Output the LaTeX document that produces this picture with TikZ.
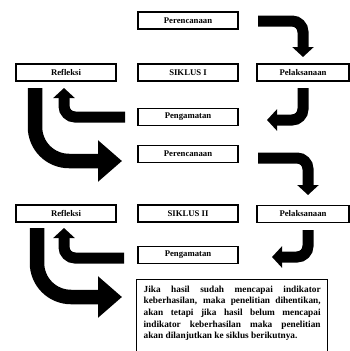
\documentclass[tikz,border=0pt]{standalone}
\usepackage{fontspec}
\setmainfont{Liberation Serif}
\usetikzlibrary{arrows.meta}
\begin{document}
\begin{tikzpicture}[x=1pt,y=-1pt,
  stage/.style={draw, line width=1.3pt, minimum height=17pt, inner sep=0pt,
    font=\bfseries\fontsize{8.7}{10}\selectfont},
  wide/.style={stage, minimum width=100pt},
  narrow/.style={stage, minimum width=92pt},
  smallarrow/.style={line width=11pt, rounded corners=11pt,
    -{Triangle[length=10pt,width=21pt]}},
  bigarrow/.style={line width=14.5pt, rounded corners=34pt,
    -{Triangle[length=24pt,width=40pt]}},
  notebox/.style={draw, line width=1.3pt, anchor=north west, inner xsep=7pt,
    inner ysep=6pt, text width=177pt, align=justify, text depth=75pt,
    font=\bfseries\fontsize{9.3}{11.7}\selectfont}
]
\useasboundingbox (0,0) rectangle (350,351);

% cycle I
\node[wide]   (per1) at (188,20.5)  {Perencanaan};
\node[wide]   (ref1) at (66,72.5)   {Refleksi};
\node[wide]   (sik1) at (188,72.5)  {SIKLUS I};
\node[narrow] (pel1) at (303,72.5)  {Pelaksanaan};
\node[wide]   (pen1) at (188,117)   {Pengamatan};

% cycle II
\node[wide]   (per2) at (188,154)   {Perencanaan};
\node[wide]   (ref2) at (66,213.5)  {Refleksi};
\node[wide]   (sik2) at (188,213.5) {SIKLUS II};
\node[narrow] (pel2) at (303,214)   {Pelaksanaan};
\node[wide]   (pen2) at (188,255)   {Pengamatan};

\node[notebox] (note) at (136,279) {Jika hasil sudah mencapai indikator\linebreak
keberhasilan, maka penelitian dihentikan,\linebreak
akan tetapi jika hasil belum mencapai\linebreak
indikator keberhasilan maka penelitian\linebreak
akan dilanjutkan ke siklus berikutnya.};

% arrow end points
\coordinate (a1s) at (258,21);  \coordinate (a1e) at (303,57);
\coordinate (a2s) at (303,88);  \coordinate (a2e) at (267,120);
\coordinate (a3s) at (125,117); \coordinate (a3e) at (64,88);
\coordinate (a4s) at (35,88);   \coordinate (a4e) at (122,161);
\coordinate (b1s) at (258,158); \coordinate (b1e) at (308,195);
\coordinate (b2s) at (308,230); \coordinate (b2e) at (272,257);
\coordinate (b3s) at (124,258); \coordinate (b3e) at (64,228);
\coordinate (b4s) at (37,228);  \coordinate (b4e) at (122,297);

\draw[smallarrow] (a1s) -| (a1e);
\draw[smallarrow] (a2s) |- (a2e);
\draw[smallarrow] (a3s) -| (a3e);
\draw[bigarrow]   (a4s) |- (a4e);
\draw[smallarrow] (b1s) -| (b1e);
\draw[smallarrow] (b2s) |- (b2e);
\draw[smallarrow] (b3s) -| (b3e);
\draw[bigarrow]   (b4s) |- (b4e);
\end{tikzpicture}
\end{document}
